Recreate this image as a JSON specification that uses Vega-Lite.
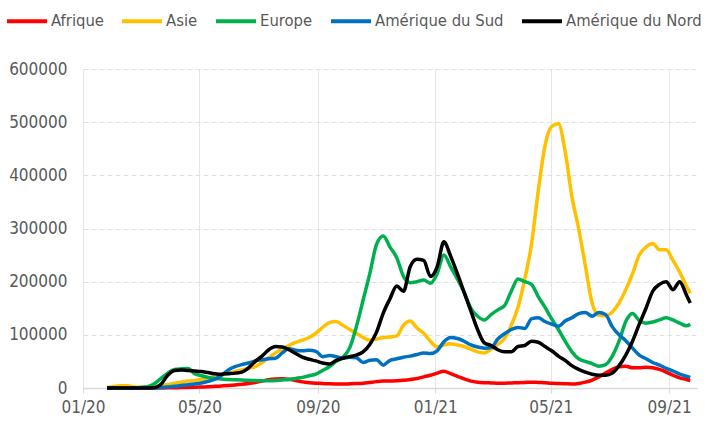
{
"$schema":"https://vega.github.io/schema/vega-lite/v6.json",
"width":614,"height":319,
"autosize":{"type":"none"},
"padding":{"left":83,"top":69,"right":9,"bottom":33},
"background":"white",
"config":{"view":{"stroke":null},"font":"DejaVu Sans Condensed"},
"data":{"values":[
{"d":"2020-01-26","c":"Afrique","v":0},{"d":"2020-02-02","c":"Afrique","v":0},{"d":"2020-02-09","c":"Afrique","v":0},{"d":"2020-02-16","c":"Afrique","v":0},{"d":"2020-02-23","c":"Afrique","v":0},{"d":"2020-03-01","c":"Afrique","v":0},{"d":"2020-03-08","c":"Afrique","v":20},{"d":"2020-03-15","c":"Afrique","v":60},{"d":"2020-03-22","c":"Afrique","v":150},{"d":"2020-03-29","c":"Afrique","v":400},{"d":"2020-04-05","c":"Afrique","v":600},{"d":"2020-04-12","c":"Afrique","v":800},{"d":"2020-04-19","c":"Afrique","v":1100},{"d":"2020-04-26","c":"Afrique","v":1400},{"d":"2020-05-03","c":"Afrique","v":1900},{"d":"2020-05-10","c":"Afrique","v":2400},{"d":"2020-05-17","c":"Afrique","v":3100},{"d":"2020-05-24","c":"Afrique","v":3900},{"d":"2020-05-31","c":"Afrique","v":4800},{"d":"2020-06-07","c":"Afrique","v":5800},{"d":"2020-06-14","c":"Afrique","v":7000},{"d":"2020-06-21","c":"Afrique","v":8500},{"d":"2020-06-28","c":"Afrique","v":10500},{"d":"2020-07-05","c":"Afrique","v":13000},{"d":"2020-07-12","c":"Afrique","v":15500},{"d":"2020-07-19","c":"Afrique","v":17000},{"d":"2020-07-26","c":"Afrique","v":17500},{"d":"2020-08-02","c":"Afrique","v":16500},{"d":"2020-08-09","c":"Afrique","v":14000},{"d":"2020-08-16","c":"Afrique","v":11500},{"d":"2020-08-23","c":"Afrique","v":10000},{"d":"2020-08-30","c":"Afrique","v":9000},{"d":"2020-09-06","c":"Afrique","v":8500},{"d":"2020-09-13","c":"Afrique","v":7800},{"d":"2020-09-20","c":"Afrique","v":7500},{"d":"2020-09-27","c":"Afrique","v":7500},{"d":"2020-10-04","c":"Afrique","v":7800},{"d":"2020-10-11","c":"Afrique","v":8300},{"d":"2020-10-18","c":"Afrique","v":9000},{"d":"2020-10-25","c":"Afrique","v":10500},{"d":"2020-11-01","c":"Afrique","v":12000},{"d":"2020-11-08","c":"Afrique","v":13000},{"d":"2020-11-15","c":"Afrique","v":13000},{"d":"2020-11-22","c":"Afrique","v":13500},{"d":"2020-11-29","c":"Afrique","v":14500},{"d":"2020-12-06","c":"Afrique","v":16000},{"d":"2020-12-13","c":"Afrique","v":18000},{"d":"2020-12-20","c":"Afrique","v":21000},{"d":"2020-12-27","c":"Afrique","v":24000},{"d":"2021-01-03","c":"Afrique","v":28000},{"d":"2021-01-10","c":"Afrique","v":31500},{"d":"2021-01-17","c":"Afrique","v":27000},{"d":"2021-01-24","c":"Afrique","v":22000},{"d":"2021-01-31","c":"Afrique","v":17000},{"d":"2021-02-07","c":"Afrique","v":13000},{"d":"2021-02-14","c":"Afrique","v":11000},{"d":"2021-02-21","c":"Afrique","v":10000},{"d":"2021-02-28","c":"Afrique","v":9500},{"d":"2021-03-07","c":"Afrique","v":9000},{"d":"2021-03-14","c":"Afrique","v":9000},{"d":"2021-03-21","c":"Afrique","v":9500},{"d":"2021-03-28","c":"Afrique","v":10000},{"d":"2021-04-04","c":"Afrique","v":10500},{"d":"2021-04-11","c":"Afrique","v":11000},{"d":"2021-04-18","c":"Afrique","v":10500},{"d":"2021-04-25","c":"Afrique","v":10000},{"d":"2021-05-02","c":"Afrique","v":9000},{"d":"2021-05-09","c":"Afrique","v":8500},{"d":"2021-05-16","c":"Afrique","v":8000},{"d":"2021-05-23","c":"Afrique","v":7500},{"d":"2021-05-30","c":"Afrique","v":8500},{"d":"2021-06-06","c":"Afrique","v":11000},{"d":"2021-06-13","c":"Afrique","v":15000},{"d":"2021-06-20","c":"Afrique","v":21000},{"d":"2021-06-27","c":"Afrique","v":28000},{"d":"2021-07-04","c":"Afrique","v":35000},{"d":"2021-07-11","c":"Afrique","v":40000},{"d":"2021-07-18","c":"Afrique","v":41000},{"d":"2021-07-25","c":"Afrique","v":38000},{"d":"2021-08-01","c":"Afrique","v":38000},{"d":"2021-08-08","c":"Afrique","v":39000},{"d":"2021-08-15","c":"Afrique","v":38000},{"d":"2021-08-22","c":"Afrique","v":35000},{"d":"2021-08-29","c":"Afrique","v":30000},{"d":"2021-09-05","c":"Afrique","v":24000},{"d":"2021-09-12","c":"Afrique","v":19000},{"d":"2021-09-19","c":"Afrique","v":16000},{"d":"2021-09-23","c":"Afrique","v":14000},
{"d":"2020-01-26","c":"Asie","v":1000},{"d":"2020-02-02","c":"Asie","v":3000},{"d":"2020-02-09","c":"Asie","v":4000},{"d":"2020-02-16","c":"Asie","v":4000},{"d":"2020-02-23","c":"Asie","v":2000},{"d":"2020-03-01","c":"Asie","v":1500},{"d":"2020-03-08","c":"Asie","v":2000},{"d":"2020-03-15","c":"Asie","v":3000},{"d":"2020-03-22","c":"Asie","v":4500},{"d":"2020-03-29","c":"Asie","v":6500},{"d":"2020-04-05","c":"Asie","v":9000},{"d":"2020-04-12","c":"Asie","v":11000},{"d":"2020-04-19","c":"Asie","v":13000},{"d":"2020-04-26","c":"Asie","v":14000},{"d":"2020-05-03","c":"Asie","v":16000},{"d":"2020-05-10","c":"Asie","v":19000},{"d":"2020-05-17","c":"Asie","v":22000},{"d":"2020-05-24","c":"Asie","v":25000},{"d":"2020-05-31","c":"Asie","v":27000},{"d":"2020-06-07","c":"Asie","v":31000},{"d":"2020-06-14","c":"Asie","v":34000},{"d":"2020-06-21","c":"Asie","v":37000},{"d":"2020-06-28","c":"Asie","v":40000},{"d":"2020-07-05","c":"Asie","v":48000},{"d":"2020-07-12","c":"Asie","v":57000},{"d":"2020-07-19","c":"Asie","v":66000},{"d":"2020-07-26","c":"Asie","v":74000},{"d":"2020-08-02","c":"Asie","v":80000},{"d":"2020-08-09","c":"Asie","v":86000},{"d":"2020-08-16","c":"Asie","v":90000},{"d":"2020-08-23","c":"Asie","v":95000},{"d":"2020-08-30","c":"Asie","v":103000},{"d":"2020-09-06","c":"Asie","v":114000},{"d":"2020-09-13","c":"Asie","v":123000},{"d":"2020-09-20","c":"Asie","v":125000},{"d":"2020-09-27","c":"Asie","v":118000},{"d":"2020-10-04","c":"Asie","v":110000},{"d":"2020-10-11","c":"Asie","v":103000},{"d":"2020-10-18","c":"Asie","v":95000},{"d":"2020-10-25","c":"Asie","v":90000},{"d":"2020-11-01","c":"Asie","v":92000},{"d":"2020-11-08","c":"Asie","v":95000},{"d":"2020-11-15","c":"Asie","v":96000},{"d":"2020-11-22","c":"Asie","v":98000},{"d":"2020-11-29","c":"Asie","v":118000},{"d":"2020-12-06","c":"Asie","v":126000},{"d":"2020-12-13","c":"Asie","v":113000},{"d":"2020-12-20","c":"Asie","v":103000},{"d":"2020-12-27","c":"Asie","v":88000},{"d":"2021-01-03","c":"Asie","v":77000},{"d":"2021-01-10","c":"Asie","v":81000},{"d":"2021-01-17","c":"Asie","v":83000},{"d":"2021-01-24","c":"Asie","v":81000},{"d":"2021-01-31","c":"Asie","v":78000},{"d":"2021-02-07","c":"Asie","v":73000},{"d":"2021-02-14","c":"Asie","v":68000},{"d":"2021-02-21","c":"Asie","v":66000},{"d":"2021-02-28","c":"Asie","v":73000},{"d":"2021-03-07","c":"Asie","v":82000},{"d":"2021-03-14","c":"Asie","v":93000},{"d":"2021-03-21","c":"Asie","v":118000},{"d":"2021-03-28","c":"Asie","v":152000},{"d":"2021-04-04","c":"Asie","v":205000},{"d":"2021-04-11","c":"Asie","v":270000},{"d":"2021-04-18","c":"Asie","v":370000},{"d":"2021-04-25","c":"Asie","v":455000},{"d":"2021-05-02","c":"Asie","v":492000},{"d":"2021-05-09","c":"Asie","v":497000},{"d":"2021-05-16","c":"Asie","v":445000},{"d":"2021-05-23","c":"Asie","v":360000},{"d":"2021-05-30","c":"Asie","v":300000},{"d":"2021-06-06","c":"Asie","v":230000},{"d":"2021-06-13","c":"Asie","v":160000},{"d":"2021-06-20","c":"Asie","v":137000},{"d":"2021-06-27","c":"Asie","v":136000},{"d":"2021-07-04","c":"Asie","v":143000},{"d":"2021-07-11","c":"Asie","v":160000},{"d":"2021-07-18","c":"Asie","v":185000},{"d":"2021-07-25","c":"Asie","v":215000},{"d":"2021-08-01","c":"Asie","v":250000},{"d":"2021-08-08","c":"Asie","v":265000},{"d":"2021-08-15","c":"Asie","v":272000},{"d":"2021-08-22","c":"Asie","v":260000},{"d":"2021-08-29","c":"Asie","v":260000},{"d":"2021-09-05","c":"Asie","v":240000},{"d":"2021-09-12","c":"Asie","v":218000},{"d":"2021-09-19","c":"Asie","v":192000},{"d":"2021-09-23","c":"Asie","v":178000},
{"d":"2020-01-26","c":"Europe","v":0},{"d":"2020-02-02","c":"Europe","v":0},{"d":"2020-02-09","c":"Europe","v":0},{"d":"2020-02-16","c":"Europe","v":0},{"d":"2020-02-23","c":"Europe","v":300},{"d":"2020-03-01","c":"Europe","v":1000},{"d":"2020-03-08","c":"Europe","v":2500},{"d":"2020-03-15","c":"Europe","v":8000},{"d":"2020-03-22","c":"Europe","v":18000},{"d":"2020-03-29","c":"Europe","v":28000},{"d":"2020-04-05","c":"Europe","v":35000},{"d":"2020-04-12","c":"Europe","v":36000},{"d":"2020-04-19","c":"Europe","v":36500},{"d":"2020-04-26","c":"Europe","v":27000},{"d":"2020-05-03","c":"Europe","v":23000},{"d":"2020-05-10","c":"Europe","v":20000},{"d":"2020-05-17","c":"Europe","v":18000},{"d":"2020-05-24","c":"Europe","v":17000},{"d":"2020-05-31","c":"Europe","v":16000},{"d":"2020-06-07","c":"Europe","v":15500},{"d":"2020-06-14","c":"Europe","v":15000},{"d":"2020-06-21","c":"Europe","v":14500},{"d":"2020-06-28","c":"Europe","v":14000},{"d":"2020-07-05","c":"Europe","v":13500},{"d":"2020-07-12","c":"Europe","v":13500},{"d":"2020-07-19","c":"Europe","v":14000},{"d":"2020-07-26","c":"Europe","v":15000},{"d":"2020-08-02","c":"Europe","v":16000},{"d":"2020-08-09","c":"Europe","v":18000},{"d":"2020-08-16","c":"Europe","v":20000},{"d":"2020-08-23","c":"Europe","v":23000},{"d":"2020-08-30","c":"Europe","v":26000},{"d":"2020-09-06","c":"Europe","v":33000},{"d":"2020-09-13","c":"Europe","v":40000},{"d":"2020-09-20","c":"Europe","v":50000},{"d":"2020-09-27","c":"Europe","v":58000},{"d":"2020-10-04","c":"Europe","v":75000},{"d":"2020-10-11","c":"Europe","v":115000},{"d":"2020-10-18","c":"Europe","v":165000},{"d":"2020-10-25","c":"Europe","v":215000},{"d":"2020-11-01","c":"Europe","v":270000},{"d":"2020-11-08","c":"Europe","v":286000},{"d":"2020-11-15","c":"Europe","v":265000},{"d":"2020-11-22","c":"Europe","v":245000},{"d":"2020-11-29","c":"Europe","v":210000},{"d":"2020-12-06","c":"Europe","v":198000},{"d":"2020-12-13","c":"Europe","v":200000},{"d":"2020-12-20","c":"Europe","v":203000},{"d":"2020-12-27","c":"Europe","v":197000},{"d":"2021-01-03","c":"Europe","v":215000},{"d":"2021-01-10","c":"Europe","v":250000},{"d":"2021-01-17","c":"Europe","v":228000},{"d":"2021-01-24","c":"Europe","v":205000},{"d":"2021-01-31","c":"Europe","v":180000},{"d":"2021-02-07","c":"Europe","v":150000},{"d":"2021-02-14","c":"Europe","v":135000},{"d":"2021-02-21","c":"Europe","v":128000},{"d":"2021-02-28","c":"Europe","v":138000},{"d":"2021-03-07","c":"Europe","v":147000},{"d":"2021-03-14","c":"Europe","v":155000},{"d":"2021-03-21","c":"Europe","v":182000},{"d":"2021-03-28","c":"Europe","v":205000},{"d":"2021-04-04","c":"Europe","v":200000},{"d":"2021-04-11","c":"Europe","v":195000},{"d":"2021-04-18","c":"Europe","v":172000},{"d":"2021-04-25","c":"Europe","v":152000},{"d":"2021-05-02","c":"Europe","v":130000},{"d":"2021-05-09","c":"Europe","v":110000},{"d":"2021-05-16","c":"Europe","v":88000},{"d":"2021-05-23","c":"Europe","v":68000},{"d":"2021-05-30","c":"Europe","v":55000},{"d":"2021-06-06","c":"Europe","v":50000},{"d":"2021-06-13","c":"Europe","v":46000},{"d":"2021-06-20","c":"Europe","v":41000},{"d":"2021-06-27","c":"Europe","v":44000},{"d":"2021-07-04","c":"Europe","v":60000},{"d":"2021-07-11","c":"Europe","v":88000},{"d":"2021-07-18","c":"Europe","v":125000},{"d":"2021-07-25","c":"Europe","v":140000},{"d":"2021-08-01","c":"Europe","v":127000},{"d":"2021-08-08","c":"Europe","v":122000},{"d":"2021-08-15","c":"Europe","v":124000},{"d":"2021-08-22","c":"Europe","v":128000},{"d":"2021-08-29","c":"Europe","v":132000},{"d":"2021-09-05","c":"Europe","v":128000},{"d":"2021-09-12","c":"Europe","v":122000},{"d":"2021-09-19","c":"Europe","v":117000},{"d":"2021-09-23","c":"Europe","v":120000},
{"d":"2020-01-26","c":"Amérique du Sud","v":0},{"d":"2020-02-02","c":"Amérique du Sud","v":0},{"d":"2020-02-09","c":"Amérique du Sud","v":0},{"d":"2020-02-16","c":"Amérique du Sud","v":0},{"d":"2020-02-23","c":"Amérique du Sud","v":0},{"d":"2020-03-01","c":"Amérique du Sud","v":0},{"d":"2020-03-08","c":"Amérique du Sud","v":0},{"d":"2020-03-15","c":"Amérique du Sud","v":200},{"d":"2020-03-22","c":"Amérique du Sud","v":800},{"d":"2020-03-29","c":"Amérique du Sud","v":1800},{"d":"2020-04-05","c":"Amérique du Sud","v":3200},{"d":"2020-04-12","c":"Amérique du Sud","v":4800},{"d":"2020-04-19","c":"Amérique du Sud","v":6000},{"d":"2020-04-26","c":"Amérique du Sud","v":7500},{"d":"2020-05-03","c":"Amérique du Sud","v":9500},{"d":"2020-05-10","c":"Amérique du Sud","v":12500},{"d":"2020-05-17","c":"Amérique du Sud","v":16500},{"d":"2020-05-24","c":"Amérique du Sud","v":24000},{"d":"2020-05-31","c":"Amérique du Sud","v":34000},{"d":"2020-06-07","c":"Amérique du Sud","v":40000},{"d":"2020-06-14","c":"Amérique du Sud","v":44000},{"d":"2020-06-21","c":"Amérique du Sud","v":47000},{"d":"2020-06-28","c":"Amérique du Sud","v":51000},{"d":"2020-07-05","c":"Amérique du Sud","v":53000},{"d":"2020-07-12","c":"Amérique du Sud","v":55000},{"d":"2020-07-19","c":"Amérique du Sud","v":56000},{"d":"2020-07-26","c":"Amérique du Sud","v":66000},{"d":"2020-08-02","c":"Amérique du Sud","v":74000},{"d":"2020-08-09","c":"Amérique du Sud","v":71000},{"d":"2020-08-16","c":"Amérique du Sud","v":70000},{"d":"2020-08-23","c":"Amérique du Sud","v":71000},{"d":"2020-08-30","c":"Amérique du Sud","v":69000},{"d":"2020-09-06","c":"Amérique du Sud","v":59000},{"d":"2020-09-13","c":"Amérique du Sud","v":61000},{"d":"2020-09-20","c":"Amérique du Sud","v":59000},{"d":"2020-09-27","c":"Amérique du Sud","v":56000},{"d":"2020-10-04","c":"Amérique du Sud","v":58000},{"d":"2020-10-11","c":"Amérique du Sud","v":57000},{"d":"2020-10-18","c":"Amérique du Sud","v":48000},{"d":"2020-10-25","c":"Amérique du Sud","v":52000},{"d":"2020-11-01","c":"Amérique du Sud","v":53000},{"d":"2020-11-08","c":"Amérique du Sud","v":43000},{"d":"2020-11-15","c":"Amérique du Sud","v":52000},{"d":"2020-11-22","c":"Amérique du Sud","v":55000},{"d":"2020-11-29","c":"Amérique du Sud","v":58000},{"d":"2020-12-06","c":"Amérique du Sud","v":60000},{"d":"2020-12-13","c":"Amérique du Sud","v":63000},{"d":"2020-12-20","c":"Amérique du Sud","v":66000},{"d":"2020-12-27","c":"Amérique du Sud","v":65000},{"d":"2021-01-03","c":"Amérique du Sud","v":70000},{"d":"2021-01-10","c":"Amérique du Sud","v":87000},{"d":"2021-01-17","c":"Amérique du Sud","v":95000},{"d":"2021-01-24","c":"Amérique du Sud","v":93000},{"d":"2021-01-31","c":"Amérique du Sud","v":88000},{"d":"2021-02-07","c":"Amérique du Sud","v":81000},{"d":"2021-02-14","c":"Amérique du Sud","v":77000},{"d":"2021-02-21","c":"Amérique du Sud","v":75000},{"d":"2021-02-28","c":"Amérique du Sud","v":76000},{"d":"2021-03-07","c":"Amérique du Sud","v":92000},{"d":"2021-03-14","c":"Amérique du Sud","v":102000},{"d":"2021-03-21","c":"Amérique du Sud","v":110000},{"d":"2021-03-28","c":"Amérique du Sud","v":114000},{"d":"2021-04-04","c":"Amérique du Sud","v":112000},{"d":"2021-04-11","c":"Amérique du Sud","v":130000},{"d":"2021-04-18","c":"Amérique du Sud","v":132000},{"d":"2021-04-25","c":"Amérique du Sud","v":125000},{"d":"2021-05-02","c":"Amérique du Sud","v":120000},{"d":"2021-05-09","c":"Amérique du Sud","v":116000},{"d":"2021-05-16","c":"Amérique du Sud","v":126000},{"d":"2021-05-23","c":"Amérique du Sud","v":132000},{"d":"2021-05-30","c":"Amérique du Sud","v":140000},{"d":"2021-06-06","c":"Amérique du Sud","v":142000},{"d":"2021-06-13","c":"Amérique du Sud","v":135000},{"d":"2021-06-20","c":"Amérique du Sud","v":142000},{"d":"2021-06-27","c":"Amérique du Sud","v":138000},{"d":"2021-07-04","c":"Amérique du Sud","v":115000},{"d":"2021-07-11","c":"Amérique du Sud","v":100000},{"d":"2021-07-18","c":"Amérique du Sud","v":89000},{"d":"2021-07-25","c":"Amérique du Sud","v":75000},{"d":"2021-08-01","c":"Amérique du Sud","v":62000},{"d":"2021-08-08","c":"Amérique du Sud","v":55000},{"d":"2021-08-15","c":"Amérique du Sud","v":48000},{"d":"2021-08-22","c":"Amérique du Sud","v":43000},{"d":"2021-08-29","c":"Amérique du Sud","v":37000},{"d":"2021-09-05","c":"Amérique du Sud","v":32000},{"d":"2021-09-12","c":"Amérique du Sud","v":26000},{"d":"2021-09-19","c":"Amérique du Sud","v":22000},{"d":"2021-09-23","c":"Amérique du Sud","v":20000},
{"d":"2020-01-26","c":"Amérique du Nord","v":0},{"d":"2020-02-02","c":"Amérique du Nord","v":0},{"d":"2020-02-09","c":"Amérique du Nord","v":0},{"d":"2020-02-16","c":"Amérique du Nord","v":0},{"d":"2020-02-23","c":"Amérique du Nord","v":0},{"d":"2020-03-01","c":"Amérique du Nord","v":0},{"d":"2020-03-08","c":"Amérique du Nord","v":100},{"d":"2020-03-15","c":"Amérique du Nord","v":500},{"d":"2020-03-22","c":"Amérique du Nord","v":7000},{"d":"2020-03-29","c":"Amérique du Nord","v":24000},{"d":"2020-04-05","c":"Amérique du Nord","v":33000},{"d":"2020-04-12","c":"Amérique du Nord","v":34000},{"d":"2020-04-19","c":"Amérique du Nord","v":33000},{"d":"2020-04-26","c":"Amérique du Nord","v":32000},{"d":"2020-05-03","c":"Amérique du Nord","v":31000},{"d":"2020-05-10","c":"Amérique du Nord","v":29000},{"d":"2020-05-17","c":"Amérique du Nord","v":27000},{"d":"2020-05-24","c":"Amérique du Nord","v":26000},{"d":"2020-05-31","c":"Amérique du Nord","v":27000},{"d":"2020-06-07","c":"Amérique du Nord","v":28000},{"d":"2020-06-14","c":"Amérique du Nord","v":30000},{"d":"2020-06-21","c":"Amérique du Nord","v":38000},{"d":"2020-06-28","c":"Amérique du Nord","v":50000},{"d":"2020-07-05","c":"Amérique du Nord","v":60000},{"d":"2020-07-12","c":"Amérique du Nord","v":72000},{"d":"2020-07-19","c":"Amérique du Nord","v":78000},{"d":"2020-07-26","c":"Amérique du Nord","v":77000},{"d":"2020-08-02","c":"Amérique du Nord","v":72000},{"d":"2020-08-09","c":"Amérique du Nord","v":65000},{"d":"2020-08-16","c":"Amérique du Nord","v":58000},{"d":"2020-08-23","c":"Amérique du Nord","v":54000},{"d":"2020-08-30","c":"Amérique du Nord","v":51000},{"d":"2020-09-06","c":"Amérique du Nord","v":47000},{"d":"2020-09-13","c":"Amérique du Nord","v":45000},{"d":"2020-09-20","c":"Amérique du Nord","v":52000},{"d":"2020-09-27","c":"Amérique du Nord","v":56000},{"d":"2020-10-04","c":"Amérique du Nord","v":59000},{"d":"2020-10-11","c":"Amérique du Nord","v":62000},{"d":"2020-10-18","c":"Amérique du Nord","v":68000},{"d":"2020-10-25","c":"Amérique du Nord","v":82000},{"d":"2020-11-01","c":"Amérique du Nord","v":105000},{"d":"2020-11-08","c":"Amérique du Nord","v":141000},{"d":"2020-11-15","c":"Amérique du Nord","v":168000},{"d":"2020-11-22","c":"Amérique du Nord","v":192000},{"d":"2020-11-29","c":"Amérique du Nord","v":182000},{"d":"2020-12-06","c":"Amérique du Nord","v":228000},{"d":"2020-12-13","c":"Amérique du Nord","v":242000},{"d":"2020-12-20","c":"Amérique du Nord","v":240000},{"d":"2020-12-27","c":"Amérique du Nord","v":210000},{"d":"2021-01-03","c":"Amérique du Nord","v":228000},{"d":"2021-01-10","c":"Amérique du Nord","v":275000},{"d":"2021-01-17","c":"Amérique du Nord","v":248000},{"d":"2021-01-24","c":"Amérique du Nord","v":215000},{"d":"2021-01-31","c":"Amérique du Nord","v":180000},{"d":"2021-02-07","c":"Amérique du Nord","v":145000},{"d":"2021-02-14","c":"Amérique du Nord","v":110000},{"d":"2021-02-21","c":"Amérique du Nord","v":85000},{"d":"2021-02-28","c":"Amérique du Nord","v":80000},{"d":"2021-03-07","c":"Amérique du Nord","v":72000},{"d":"2021-03-14","c":"Amérique du Nord","v":68000},{"d":"2021-03-21","c":"Amérique du Nord","v":68000},{"d":"2021-03-28","c":"Amérique du Nord","v":78000},{"d":"2021-04-04","c":"Amérique du Nord","v":80000},{"d":"2021-04-11","c":"Amérique du Nord","v":88000},{"d":"2021-04-18","c":"Amérique du Nord","v":86000},{"d":"2021-04-25","c":"Amérique du Nord","v":78000},{"d":"2021-05-02","c":"Amérique du Nord","v":70000},{"d":"2021-05-09","c":"Amérique du Nord","v":60000},{"d":"2021-05-16","c":"Amérique du Nord","v":52000},{"d":"2021-05-23","c":"Amérique du Nord","v":42000},{"d":"2021-05-30","c":"Amérique du Nord","v":35000},{"d":"2021-06-06","c":"Amérique du Nord","v":30000},{"d":"2021-06-13","c":"Amérique du Nord","v":26000},{"d":"2021-06-20","c":"Amérique du Nord","v":24000},{"d":"2021-06-27","c":"Amérique du Nord","v":24000},{"d":"2021-07-04","c":"Amérique du Nord","v":28000},{"d":"2021-07-11","c":"Amérique du Nord","v":42000},{"d":"2021-07-18","c":"Amérique du Nord","v":62000},{"d":"2021-07-25","c":"Amérique du Nord","v":88000},{"d":"2021-08-01","c":"Amérique du Nord","v":120000},{"d":"2021-08-08","c":"Amérique du Nord","v":150000},{"d":"2021-08-15","c":"Amérique du Nord","v":182000},{"d":"2021-08-22","c":"Amérique du Nord","v":195000},{"d":"2021-08-29","c":"Amérique du Nord","v":200000},{"d":"2021-09-05","c":"Amérique du Nord","v":185000},{"d":"2021-09-12","c":"Amérique du Nord","v":200000},{"d":"2021-09-19","c":"Amérique du Nord","v":175000},{"d":"2021-09-23","c":"Amérique du Nord","v":160000}
]},
"mark":{"type":"line","strokeWidth":3.5,"interpolate":"monotone"},
"encoding":{
"x":{"field":"d","type":"temporal",
 "scale":{"type":"utc","domain":[{"year":2020,"month":1,"date":1,"utc":true},{"year":2021,"month":9,"date":30,"utc":true}]},
 "axis":{"title":null,"format":"%m/%y","values":[{"year":2020,"month":1,"date":1,"utc":true},{"year":2020,"month":5,"date":1,"utc":true},{"year":2020,"month":9,"date":1,"utc":true},{"year":2021,"month":1,"date":1,"utc":true},{"year":2021,"month":5,"date":1,"utc":true},{"year":2021,"month":9,"date":1,"utc":true}],
 "grid":true,"gridColor":"#e6e6e6","gridWidth":1,"domainColor":"#d9d9d9","domainWidth":1.5,"tickColor":"#d9d9d9","tickSize":5,"labelFontSize":17,"labelColor":"#595959","labelPadding":6,"labelFlush":false,"labelOverlap":false}},
"y":{"field":"v","type":"quantitative",
 "scale":{"domain":[0,600000],"nice":false},
 "axis":{"title":null,"values":[0,100000,200000,300000,400000,500000,600000],"format":"d","grid":true,"gridDash":[5,3],"gridColor":"#e0e0e0","domain":false,"ticks":false,"labelFontSize":17,"labelColor":"#595959","labelPadding":16}},
"color":{"field":"c","type":"nominal",
 "scale":{"domain":["Afrique","Asie","Europe","Amérique du Sud","Amérique du Nord"],"range":["#ff0000","#ffc000","#00b050","#0070c0","#000000"]},
 "legend":{"title":null,"orient":"none","legendX":-78,"legendY":-70,"direction":"horizontal","symbolType":"stroke","symbolSize":1600,"symbolStrokeWidth":4,"labelFontSize":16.5,"labelColor":"#595959","labelOffset":2,"columnPadding":10,"padding":0}}
}
}
